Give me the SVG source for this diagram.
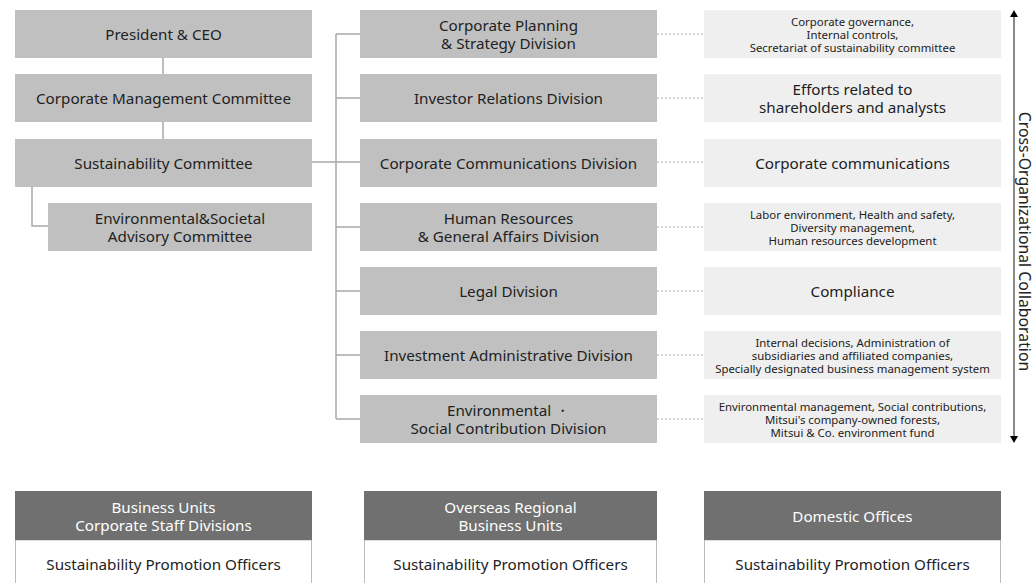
<svg xmlns="http://www.w3.org/2000/svg" width="1034" height="583" viewBox="0 0 1034 583">
<style>
text{font-family:"Noto Sans","Open Sans","Liberation Sans",sans-serif;fill:#222;text-anchor:middle;dominant-baseline:central}
.m{font-size:15.2px}
.s{font-size:11.4px}
.w{fill:#fff}
.g{fill:#c0c0c0}
.l{fill:#efefef}
.h{fill:#707070}
.c{stroke:#a8a8a8;stroke-width:1.5;fill:none}
.d{stroke:#aaa;stroke-width:1;stroke-dasharray:2 2;fill:none}
</style>
<rect width="1034" height="583" fill="#fff"/>
<g id="connectors">
<path class="c" d="M163 58V74M163 122V139M32 187V226H48M312 162H336M336 34V419M336 34H360M336 98H360M336 162H360M336 227H360M336 291H360M336 355H360M336 419H360"/>
<path class="d" d="M657 34H704M657 98H704M657 162H704M657 227H704M657 291H704M657 355H704M657 419H704"/>
</g>
<g id="president"><rect class="g" x="15" y="10" width="297" height="48"/><text class="m" x="163.5" y="34">President &amp; CEO</text></g>
<g id="cmc"><rect class="g" x="15" y="74" width="297" height="48"/><text class="m" x="163.5" y="98">Corporate Management Committee</text></g>
<g id="sc"><rect class="g" x="15" y="139" width="297" height="48"/><text class="m" x="163.5" y="163">Sustainability Committee</text></g>
<g id="esac"><rect class="g" x="48" y="203" width="264" height="48"/><text class="m" x="180" y="218">Environmental&amp;Societal</text><text class="m" x="180" y="236">Advisory Committee</text></g>
<g id="cpsd"><rect class="g" x="360" y="10" width="297" height="48"/><text class="m" x="508.5" y="25">Corporate Planning</text><text class="m" x="508.5" y="43">&amp; Strategy Division</text></g>
<g id="ird"><rect class="g" x="360" y="74" width="297" height="48"/><text class="m" x="508.5" y="98">Investor Relations Division</text></g>
<g id="ccd"><rect class="g" x="360" y="139" width="297" height="48"/><text class="m" x="508.5" y="163">Corporate Communications Division</text></g>
<g id="hrd"><rect class="g" x="360" y="203" width="297" height="48"/><text class="m" x="508.5" y="218">Human Resources</text><text class="m" x="508.5" y="236">&amp; General Affairs Division</text></g>
<g id="legal"><rect class="g" x="360" y="267" width="297" height="48"/><text class="m" x="508.5" y="291">Legal Division</text></g>
<g id="iad"><rect class="g" x="360" y="331" width="297" height="48"/><text class="m" x="508.5" y="355">Investment Administrative Division</text></g>
<g id="escd"><rect class="g" x="360" y="395" width="297" height="48"/><text class="m" x="508.5" y="410">Environmental ・</text><text class="m" x="508.5" y="428">Social Contribution Division</text></g>
<g id="r1"><rect class="l" x="704" y="10" width="297" height="48"/><text class="s" x="852.5" y="21">Corporate governance,</text><text class="s" x="852.5" y="34">Internal controls,</text><text class="s" x="852.5" y="47">Secretariat of sustainability committee</text></g>
<g id="r2"><rect class="l" x="704" y="74" width="297" height="48"/><text class="m" x="852.5" y="89">Efforts related to</text><text class="m" x="852.5" y="107">shareholders and analysts</text></g>
<g id="r3"><rect class="l" x="704" y="139" width="297" height="48"/><text class="m" x="852.5" y="163">Corporate communications</text></g>
<g id="r4"><rect class="l" x="704" y="203" width="297" height="48"/><text class="s" x="852.5" y="214">Labor environment, Health and safety,</text><text class="s" x="852.5" y="227">Diversity management,</text><text class="s" x="852.5" y="240">Human resources development</text></g>
<g id="r5"><rect class="l" x="704" y="267" width="297" height="48"/><text class="m" x="852.5" y="291">Compliance</text></g>
<g id="r6"><rect class="l" x="704" y="331" width="297" height="48"/><text class="s" x="852.5" y="342">Internal decisions, Administration of</text><text class="s" x="852.5" y="355">subsidiaries and affiliated companies,</text><text class="s" x="852.5" y="368">Specially designated business management system</text></g>
<g id="r7"><rect class="l" x="704" y="395" width="297" height="48"/><text class="s" x="852.5" y="406.5">Environmental management, Social contributions,</text><text class="s" x="852.5" y="419.5">Mitsui's company-owned forests,</text><text class="s" x="852.5" y="432.5">Mitsui &amp; Co. environment fund</text></g>
<g id="collab">
<line x1="1014" y1="16" x2="1014" y2="437" stroke="#888" stroke-width="2"/>
<polygon points="1014,10 1010,17 1018,17" fill="#000"/>
<polygon points="1014,443 1010,436 1018,436" fill="#000"/>
<text transform="translate(1024.5 241.5) rotate(90)" style="font-size:15.8px">Cross-Organizational Collaboration</text>
</g>
<g id="b1"><rect x="15.5" y="540" width="296" height="50" fill="#fff" stroke="#bbb"/><rect class="h" x="15" y="491" width="297" height="49"/><text class="m w" x="163.5" y="507">Business Units</text><text class="m w" x="163.5" y="525">Corporate Staff Divisions</text><text class="m" x="163.5" y="564">Sustainability Promotion Officers</text></g>
<g id="b2"><rect x="364.5" y="540" width="292" height="50" fill="#fff" stroke="#bbb"/><rect class="h" x="364" y="491" width="293" height="49"/><text class="m w" x="510.5" y="507">Overseas Regional</text><text class="m w" x="510.5" y="525">Business Units</text><text class="m" x="510.5" y="564">Sustainability Promotion Officers</text></g>
<g id="b3"><rect x="704.5" y="540" width="296" height="50" fill="#fff" stroke="#bbb"/><rect class="h" x="704" y="491" width="297" height="49"/><text class="m w" x="852.5" y="516">Domestic Offices</text><text class="m" x="852.5" y="564">Sustainability Promotion Officers</text></g>
</svg>
